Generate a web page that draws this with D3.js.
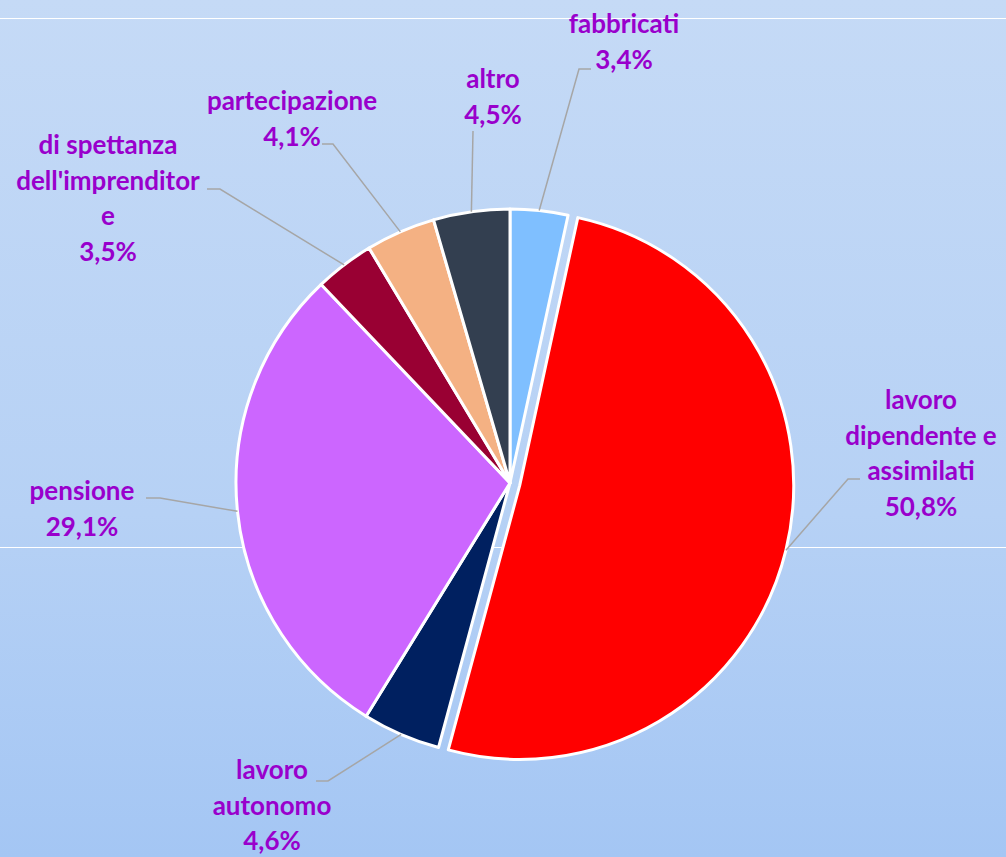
<!DOCTYPE html>
<html>
<head>
<meta charset="utf-8">
<script src="https://cdn.jsdelivr.net/npm/d3@7"></script>
<style>
  html, body { margin: 0; padding: 0; }
  body { width: 1006px; height: 857px; overflow: hidden; }
  .lbl { font-family: Lato, "Open Sans", sans-serif; font-weight: bold; font-size: 26px; fill: #9900cc; }
</style>
</head>
<body>
<div id="chart"></div>
<script>
// slice data, clockwise from 12 o'clock
var categories = ["fabbricati", "lavoro dipendente e assimilati", "lavoro autonomo", "pensione",
    "di spettanza dell'imprenditore", "partecipazione", "altro"];
var values = [3.4, 50.8, 4.6, 29.1, 3.5, 4.1, 4.5];
var valueLabels = ["3,4%", "50,8%", "4,6%", "29,1%", "3,5%", "4,1%", "4,5%"];
// label text as wrapped in the picture
var labelLines = [
    ["fabbricati"],
    ["lavoro", "dipendente e", "assimilati"],
    ["lavoro", "autonomo"],
    ["pensione"],
    ["di spettanza", "dell'imprenditor", "e"],
    ["partecipazione"],
    ["altro"]
];
var colors = ["#7fbfff", "#ff0000", "#002060", "#cc66ff", "#990033", "#f4b183", "#333f50"];

// layout: label block centre x, first baseline y, leader elbow and end
var labelLayout = [
    {x: 624, y: 33, elbow: [579, 69], end: [591, 69]},
    {x: 921, y: 409, elbow: [848, 479], end: [860, 479]},
    {x: 272, y: 779, elbow: [328, 781], end: [316, 781]},
    {x: 82, y: 500, elbow: [160, 498], end: [146, 498]},
    {x: 108, y: 154, elbow: [220, 189], end: [207, 189]},
    {x: 292, y: 110, elbow: [333, 144], end: [322, 144]},
    {x: 493, y: 88, elbow: [473, 131], end: [473, 131]}
];

var width = 1006, height = 857;
var cx = 510, cy = 483, radius = 274, explode = 10, lineH = 35.5;

var svg = d3.select("#chart").append("svg")
    .attr("width", width)
    .attr("height", height);

var grad = svg.append("defs").append("linearGradient")
    .attr("id", "bg").attr("x1", 0).attr("y1", 0).attr("x2", 0).attr("y2", 1);
grad.append("stop").attr("offset", "0%").attr("stop-color", "#c5daf6");
grad.append("stop").attr("offset", "60%").attr("stop-color", "#b6d1f5");
grad.append("stop").attr("offset", "100%").attr("stop-color", "#a4c6f4");

svg.append("rect").attr("width", width).attr("height", height).attr("fill", "url(#bg)");

// faint white rules across the plot area
svg.selectAll(".rule")
    .data([18, 547])
    .enter().append("line")
    .attr("x1", 0).attr("x2", width)
    .attr("y1", d => d + 0.5).attr("y2", d => d + 0.5)
    .attr("stroke", "#ffffff").attr("stroke-width", 1);

var pie = d3.pie().value(d => d).sort(null);
var arcs = pie(values);

var arc = d3.arc().innerRadius(0).outerRadius(radius);

function offsetOf(d, i) {
    if (i !== 1) return [0, 0];
    var a = (d.startAngle + d.endAngle) / 2;
    return [explode * Math.sin(a), -explode * Math.cos(a)];
}

var g = svg.append("g").attr("transform", "translate(" + cx + "," + cy + ")");

g.selectAll("path.slice")
    .data(arcs)
    .enter().append("path")
    .attr("class", "slice")
    .attr("d", arc)
    .attr("transform", (d, i) => "translate(" + offsetOf(d, i) + ")")
    .attr("fill", (d, i) => colors[i])
    .attr("stroke", "#ffffff")
    .attr("stroke-width", 3)
    .attr("stroke-linejoin", "round");

// leader lines: from slice edge at mid angle to the label elbow
svg.selectAll("polyline.leader")
    .data(arcs)
    .enter().append("polyline")
    .attr("class", "leader")
    .attr("fill", "none")
    .attr("stroke", "#a6a6a6")
    .attr("stroke-width", 1.5)
    .attr("points", function (d, i) {
        var a = (d.startAngle + d.endAngle) / 2;
        var o = offsetOf(d, i);
        var p = [cx + o[0] + radius * Math.sin(a), cy + o[1] - radius * Math.cos(a)];
        var L = labelLayout[i];
        return [p, L.elbow, L.end].map(q => q.join(",")).join(" ");
    });

// labels
var lbl = svg.selectAll("text.lbl")
    .data(arcs)
    .enter().append("text")
    .attr("class", "lbl")
    .attr("text-anchor", "middle");

lbl.each(function (d, i) {
    var t = d3.select(this);
    var L = labelLayout[i];
    var lines = labelLines[i].concat([valueLabels[i]]);
    lines.forEach(function (s, k) {
        t.append("tspan")
            .attr("x", L.x)
            .attr("y", L.y + k * lineH)
            .text(s);
    });
});
</script>
</body>
</html>
